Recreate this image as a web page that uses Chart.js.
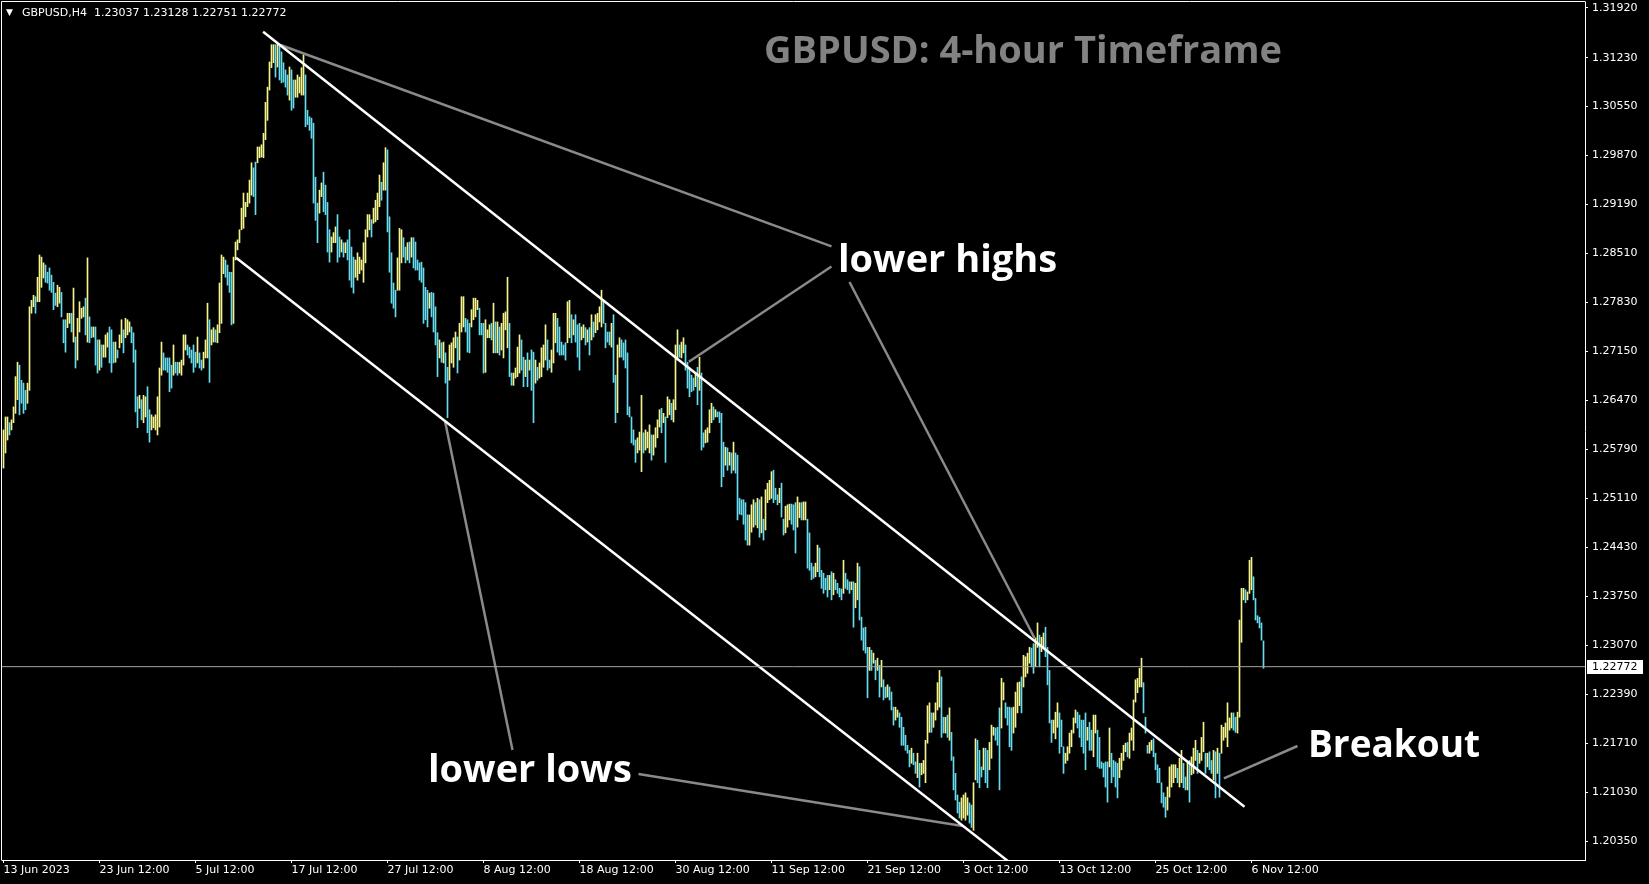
<!DOCTYPE html>
<html>
<head>
<meta charset="utf-8">
<title>GBPUSD H4</title>
<script src="https://cdn.jsdelivr.net/npm/chart.js@4.4.1/dist/chart.umd.min.js"></script>
<style>
  html, body { margin: 0; padding: 0; background: #000; overflow: hidden; }
  #wrap { width: 1649px; height: 884px; }
</style>
</head>
<body>
<div id="wrap"><canvas id="chart" width="1649" height="884"></canvas></div>
<script>
// GBPUSD H4 bars, prices in points (price x 10000), one entry per 4h bar
const highs = [
  12606,12624,12624,12616,12620,12638,12680,12700,12696,12675,12671,12661,12671,
  12777,12786,12793,12791,12818,12849,12846,12838,12835,12825,12831,12821,12811,12796,12807,12804,12797,
  12759,12759,12768,12768,12768,12803,12735,12761,12784,12775,12777,12789,12845,12763,12749,12749,12749,
  12731,12731,12724,12724,12738,12741,12749,12745,12728,12728,12717,12738,12759,12745,12761,12759,12756,12749,12741,
  12717,12652,12654,12648,12654,12652,12666,12634,12627,12624,12627,12652,12692,
  12728,12713,12706,12706,12706,12696,12724,12700,12700,12700,12703,12738,12738,12724,12721,12717,12724,12714,12735,12713,12703,12714,12731,
  12782,12759,12745,12748,12745,12752,12810,12849,12846,12842,12835,12825,12825,12846,
  12867,12870,12884,12914,12935,12922,12935,12953,12977,12970,12978,12999,12999,13002,13018,
  13061,13082,13117,13141,13141,13141,13143,13141,13131,13116,13106,13099,13110,13106,13092,13092,13099,13096,13109,13127,
  13099,13050,13041,13039,13032,12957,12921,12939,12949,12964,12946,12922,12884,12874,12880,12888,12905,12874,12870,12866,
  12866,12870,12884,12860,12846,12842,12852,12846,12842,12866,12884,12905,12905,12898,12914,12925,12935,12960,12950,12977,12998,12995,
  12902,12852,12810,12800,12845,12886,12884,12873,12860,12866,12867,12873,12873,12867,12842,12838,12839,
  12831,12804,12800,12796,12797,12796,12777,12741,12731,12727,12728,12713,12693,12724,12727,12734,12742,12735,12754,
  12791,12791,12761,12759,12754,12773,12789,12789,12786,12775,12754,12754,12759,12745,12752,12754,12782,12756,12756,12749,12754,12768,12770,12818,12754,
  12685,12685,12692,12721,12738,12731,12707,12703,12713,12703,12717,12714,12703,12693,12699,12720,12724,12752,12731,12703,12717,
  12768,12768,12761,12749,12728,12724,12727,12784,12786,12766,12759,12766,12752,12754,12749,12752,12748,12745,12748,12766,12756,12766,12768,12777,12800,12786,12754,12742,12742,12754,
  12766,12682,12724,12734,12731,12727,12731,12713,12638,12624,12606,12592,12595,12603,12654,12602,12606,12603,12613,12599,12599,12609,12620,12634,12636,12629,12624,12652,12648,12643,12648,
  12724,12745,12724,12728,12734,12724,12700,12692,12682,12678,12685,12693,12707,12685,12602,12606,12609,12634,12643,12638,12634,12631,12631,
  12629,12589,12582,12581,12575,12574,12589,12574,12571,12511,12509,12509,12505,12488,12488,12502,12509,12505,12511,12509,12513,12482,12523,12532,12536,12548,
  12550,12525,12516,12525,12532,12482,12500,12502,12503,12503,12502,12505,12513,12505,12505,12506,12506,
  12482,12463,12421,12416,12421,12446,12442,12411,12407,12400,12404,12404,12409,12407,12398,12393,12386,12385,12425,12407,12398,12395,12395,12395,12393,12421,12416,
  12346,12331,12332,12304,12304,12300,12296,12286,12289,12279,12286,12259,12249,12252,12249,12242,12221,12221,12217,12213,12207,12193,12182,12168,12161,12164,12157,12145,12157,12143,12143,12147,
  12175,12223,12227,12213,12213,12227,12255,12272,12263,12207,12207,12210,12220,12186,12152,12129,12099,12089,12095,12099,12102,12095,12088,12085,12116,
  12177,12175,12161,12138,12164,12164,12161,12172,12196,12193,12192,12193,12220,12261,12255,12227,12221,12221,12220,12221,12242,12255,12256,12263,12293,12291,12296,12304,
  12303,12309,12317,12338,12321,12318,12324,12332,12304,12272,12203,12203,12214,12227,12213,12203,
  12166,12157,12166,12185,12189,12206,12217,12214,12210,12203,12203,12213,12193,12200,12189,12210,12210,12189,12179,12145,12143,12145,12145,
  12192,12157,12147,12145,12143,12150,12157,12168,12171,12172,12185,12192,12231,12259,12261,12275,12289,12255,12207,12168,12172,12175,12177,12157,12141,12136,
  12116,12102,12096,12110,12138,12141,12141,12141,12136,12150,12161,12143,12124,12145,12147,12152,12164,12175,12161,12157,12179,12200,12157,12157,12159,12147,12161,12159,12164,12157,
  12196,12193,12199,12227,12206,12213,12213,12207,12214,12342,12386,12386,12384,12381,12425,12429,12402,12372,12348,12346,12338,12313
];
const lows = [
  12553,12574,12592,12599,12606,12616,12629,12648,12627,12643,12629,12634,12643,
  12661,12768,12777,12768,12784,12784,12804,12817,12811,12810,12800,12797,12773,12779,12777,12782,12763,
  12727,12714,12748,12754,12742,12728,12692,12703,12742,12761,12763,12738,12728,12727,12734,12735,12696,
  12685,12689,12693,12707,12707,12721,12699,12686,12699,12700,12706,12720,12727,12713,12734,12738,12742,12727,12700,
  12631,12609,12636,12620,12616,12624,12602,12589,12606,12609,12606,12599,12610,
  12682,12689,12689,12686,12659,12664,12682,12685,12682,12685,12682,12696,12717,12710,12706,12699,12686,12693,12699,12692,12689,12692,12706,
  12706,12672,12724,12728,12728,12727,12741,12754,12823,12818,12807,12797,12752,12754,
  12842,12856,12866,12884,12886,12902,12916,12921,12932,12930,12905,12977,12984,12985,12984,
  13009,13036,13078,13109,13116,13096,13110,13092,13088,13089,13082,13071,13064,13050,13053,13068,13068,13074,13071,13071,
  13027,13030,13022,13011,12921,12897,12866,12907,12930,12909,12905,12853,12839,12853,12866,12866,12839,12846,12853,12846,
  12852,12842,12814,12804,12796,12818,12814,12823,12828,12811,12838,12874,12884,12874,12893,12895,12898,12916,12925,12939,12939,12881,
  12825,12782,12775,12763,12800,12800,12838,12846,12838,12842,12838,12846,12831,12828,12828,12814,12811,
  12754,12759,12749,12775,12763,12742,12724,12680,12706,12700,12699,12671,12623,12675,12699,12693,12720,12685,12703,
  12742,12749,12742,12714,12713,12749,12759,12763,12773,12738,12738,12685,12686,12734,12734,12731,12713,12713,12713,12710,12717,12706,12745,12720,12680,
  12668,12668,12678,12680,12685,12689,12666,12680,12666,12689,12661,12616,12671,12675,12678,12680,12693,12703,12689,12692,12686,
  12699,12727,12714,12710,12710,12710,12703,12727,12734,12727,12738,12728,12707,12689,12731,12734,12724,12728,12710,12731,12735,12741,12745,12756,12749,12754,12720,12728,12724,12721,
  12672,12616,12630,12707,12707,12703,12692,12627,12624,12588,12585,12561,12574,12578,12548,12574,12578,12581,12574,12564,12571,12582,12595,12610,12602,12616,12561,12623,12627,12620,12617,
  12634,12703,12707,12706,12713,12689,12664,12652,12659,12661,12666,12641,12661,12578,12582,12588,12589,12602,12616,12620,12624,12624,12616,
  12527,12541,12557,12550,12557,12546,12550,12546,12481,12489,12488,12475,12453,12446,12446,12464,12471,12474,12470,12457,12463,12453,12467,12505,12509,12511,
  12505,12509,12502,12505,12485,12460,12463,12471,12481,12475,12467,12435,12471,12484,12481,12481,12481,
  12414,12411,12398,12400,12402,12409,12402,12386,12379,12384,12374,12384,12370,12377,12384,12379,12374,12370,12379,12386,12384,12379,12384,12332,12359,12370,12342,
  12314,12300,12296,12234,12272,12272,12282,12259,12272,12235,12249,12231,12234,12235,12231,12217,12196,12203,12207,12193,12168,12168,12161,12157,12138,12143,12141,12129,12123,12110,12127,12129,
  12116,12171,12186,12186,12193,12203,12217,12221,12179,12185,12185,12179,12175,12147,12106,12092,12074,12067,12064,12067,12064,12071,12060,12054,12050,
  12120,12116,12109,12124,12134,12116,12109,12134,12150,12182,12175,12168,12106,12192,12231,12206,12196,12166,12161,12185,12193,12213,12223,12213,12249,12263,12268,12282,
  12277,12268,12277,12304,12277,12298,12304,12291,12252,12199,12172,12185,12177,12193,12157,12166,
  12129,12143,12147,12157,12166,12185,12199,12192,12179,12166,12157,12134,12175,12161,12161,12152,12185,12138,12136,12136,12124,12110,12089,
  12138,12116,12124,12110,12095,12123,12134,12147,12159,12152,12150,12175,12161,12228,12241,12249,12249,12213,12185,12157,12157,12161,12152,12134,12116,12116,
  12088,12082,12068,12078,12096,12110,12116,12123,12116,12110,12116,12109,12106,12106,12089,12127,12129,12147,12129,12143,12147,12159,12129,12138,12134,12129,12120,12095,12129,12096,
  12157,12175,12179,12166,12189,12192,12189,12186,12185,12207,12311,12370,12366,12370,12379,12384,12370,12342,12338,12331,12314,12275
];

// time axis: bar index of each label
const timeTicks = [0, 48, 96, 144, 192, 240, 288, 336, 384, 432, 480, 528, 576, 624];
const timeLabels = ['13 Jun 2023', '23 Jun 12:00', '5 Jul 12:00', '17 Jul 12:00', '27 Jul 12:00',
  '8 Aug 12:00', '18 Aug 12:00', '30 Aug 12:00', '11 Sep 12:00', '21 Sep 12:00',
  '3 Oct 12:00', '13 Oct 12:00', '25 Oct 12:00', '6 Nov 12:00'];

const priceTicks = [1.31920, 1.31230, 1.30550, 1.29870, 1.29190, 1.28510, 1.27830, 1.27150, 1.26470,
  1.25790, 1.25110, 1.24430, 1.23750, 1.23070, 1.22390, 1.21710, 1.21030, 1.20350];

const lastOHLC = [1.23037, 1.23128, 1.22751, 1.22772];
const bidPrice = 1.22772;

// drawn objects: [barIndex, price] pairs
const channelUpper = [[129.8, 1.31591], [620.5, 1.20827]];
const channelLower = [[116.3, 1.28452], [512, 1.19860]];
const pointerLines = [
  [[138.5, 1.31406], [414, 1.28610]],
  [[342.7, 1.27007], [414, 1.28330]],
  [[423, 1.28114], [515.5, 1.23170]],
  [[220.75, 1.26184], [254.5, 1.21614]],
  [[317.5, 1.21281], [479.5, 1.20559]],
  [[610.2, 1.21221], [647, 1.21670]]
];

const UP = '#f4f48e';
const DOWN = '#66dcee';
const POINTER = '#8a8a8a';

const barData = highs.map((h, i) => ({ x: i, y: [lows[i] / 10000, h / 10000] }));
const barColors = highs.map((h, i) => {
  if (i === 0) return UP;
  return (h + lows[i]) >= (highs[i - 1] + lows[i - 1]) ? UP : DOWN;
});

function seg(points, color, width) {
  return {
    type: 'line',
    data: points.map(p => ({ x: p[0], y: p[1] })),
    borderColor: color,
    borderWidth: width,
    pointRadius: 0,
    fill: false,
    tension: 0,
    order: 0
  };
}

const datasets = [
  {
    type: 'bar',
    data: barData,
    backgroundColor: barColors,
    barThickness: 1,
    borderWidth: 0,
    order: 10
  },
  seg([[-5, bidPrice], [800, bidPrice]], '#a8a39c', 1),
  seg(channelUpper, '#ffffff', 2.5),
  seg(channelLower, '#ffffff', 2.5)
];
pointerLines.forEach(p => datasets.push(seg(p, POINTER, 2.5)));

const axisFont = { family: 'DejaVu Sans', size: 11 };

const overlay = {
  id: 'overlay',
  afterDraw(chart) {
    const ctx = chart.ctx;
    const a = chart.chartArea;
    ctx.save();
    // frame top + left
    ctx.strokeStyle = '#ffffff';
    ctx.lineWidth = 1;
    ctx.beginPath();
    ctx.moveTo(1.5, a.bottom + 0.5);
    ctx.lineTo(1.5, 1.5);
    ctx.lineTo(a.right + 0.5, 1.5);
    ctx.stroke();

    // header
    ctx.fillStyle = '#ffffff';
    ctx.textBaseline = 'middle';
    ctx.textAlign = 'left';
    ctx.font = '9px "DejaVu Sans"';
    ctx.fillText('▼', 6, 13);
    ctx.font = '11px "DejaVu Sans"';
    ctx.fillText('GBPUSD,H4  ' + lastOHLC.map(v => v.toFixed(5)).join(' '), 22, 13);

    // title
    ctx.fillStyle = '#828282';
    ctx.font = 'bold 38px "Open Sans"';
    ctx.fillText('GBPUSD: 4-hour Timeframe', 764, 52);

    // notes
    ctx.fillStyle = '#ffffff';
    ctx.font = 'bold 38px "Open Sans"';
    ctx.fillText('lower highs', 838, 261);
    ctx.fillText('lower lows', 428, 771);
    ctx.font = 'bold 37px "Open Sans"';
    ctx.fillText('Breakout', 1308, 746);

    // bid label on price axis
    const y = chart.scales.y.getPixelForValue(bidPrice);
    ctx.fillStyle = '#ffffff';
    ctx.fillRect(a.right + 2, Math.round(y) - 7, 56, 14);
    ctx.fillStyle = '#000000';
    ctx.font = '11px "DejaVu Sans"';
    ctx.fillText(bidPrice.toFixed(5), a.right + 7, Math.round(y));
    ctx.restore();
  }
};

new Chart(document.getElementById('chart'), {
  type: 'bar',
  data: { datasets },
  plugins: [overlay],
  options: {
    responsive: false,
    animation: false,
    events: [],
    layout: { padding: { left: 2, top: 2, right: 0, bottom: 0 } },
    plugins: {
      legend: { display: false },
      tooltip: { enabled: false }
    },
    scales: {
      x: {
        type: 'linear',
        min: -0.75,
        max: 790.75,
        offset: false,
        grid: { display: true, offset: false, drawOnChartArea: false, drawTicks: true, tickLength: 3, color: '#ffffff' },
        border: { display: true, color: '#ffffff' },
        ticks: {
          color: '#ffffff',
          font: axisFont,
          align: 'start',
          padding: 1,
          maxRotation: 0,
          autoSkip: false,
          callback: v => {
            const k = timeTicks.indexOf(v);
            return k >= 0 ? timeLabels[k] : '';
          }
        },
        afterBuildTicks: s => { s.ticks = timeTicks.map(v => ({ value: v })); },
        afterFit: s => { s.height = 24; s.paddingLeft = 0; s.paddingRight = 0; }
      },
      y: {
        type: 'linear',
        position: 'right',
        min: 1.20087,
        max: 1.32003,
        beginAtZero: false,
        grid: { display: true, drawOnChartArea: false, drawTicks: true, tickLength: 3, color: '#ffffff' },
        border: { display: true, color: '#ffffff' },
        ticks: {
          color: '#ffffff',
          font: axisFont,
          padding: 4,
          crossAlign: 'near',
          callback: v => v.toFixed(5)
        },
        afterBuildTicks: s => { s.ticks = priceTicks.map(v => ({ value: v })); },
        afterFit: s => { s.width = 64; s.paddingTop = 0; s.paddingBottom = 0; }
      }
    }
  }
});
</script>
</body>
</html>
